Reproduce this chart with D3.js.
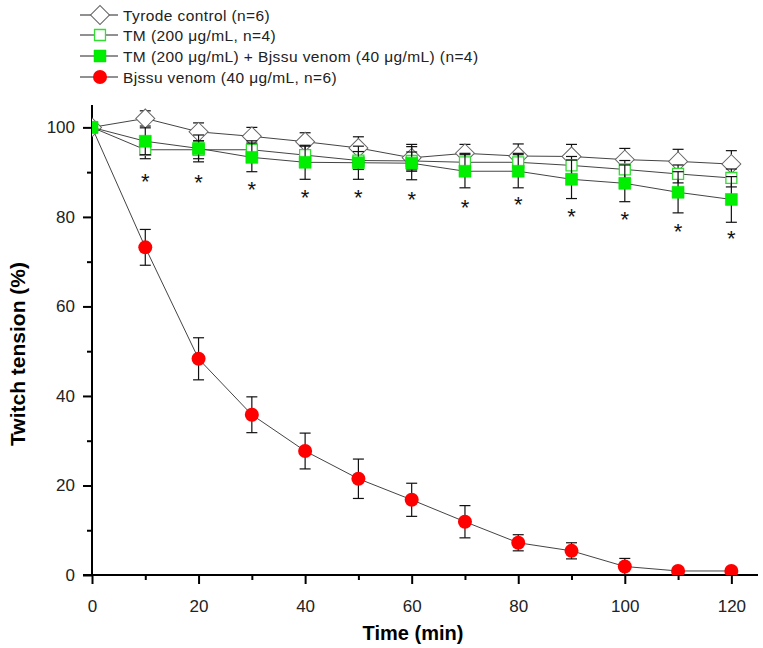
<!DOCTYPE html>
<html>
<head>
<meta charset="utf-8">
<script src="https://cdn.jsdelivr.net/npm/d3@7/dist/d3.min.js"></script>
<style>
  body { margin: 0; background: #fff; }
  text { font-family: Arial, "Liberation Sans", sans-serif; }
</style>
</head>
<body>
<script>
// values (percent of initial twitch tension)
var time = [0, 10, 20, 30, 40, 50, 60, 70, 80, 90, 100, 110, 120]

var tyrode    = [100, 102, 99, 98, 96.8, 95.4, 93.2, 94.2, 93.6, 93.5, 92.8, 92.4, 91.8]
var tyrodeErr = [0, 1.7, 2, 2, 2, 2.5, 3, 2, 2.7, 2.7, 2.5, 2.7, 3]

var tm    = [100, 95, 95, 95, 93.8, 92.6, 92.5, 92.2, 92.2, 91.5, 90.6, 89.6, 88.7]
var tmErr = [0, 2, 2, 2, 2, 2, 2, 2, 2, 2, 2, 2, 2]

var tmVenom    = [100, 96.9, 95.3, 93.3, 92.2, 92.1, 92, 90.2, 90.2, 88.4, 87.5, 85.5, 83.9]
var tmVenomErr = [0, 3, 3, 3.2, 3.8, 3.7, 3.7, 3.7, 3.7, 4.3, 4.1, 4.6, 5.1]

var venom    = [100, 73.2, 48.3, 35.8, 27.7, 21.5, 16.8, 11.9, 7.2, 5.4, 1.9, 0.9, 0.9]
var venomErr = [0, 4, 4.7, 4, 4, 4.4, 3.7, 3.6, 1.8, 1.8, 1.8, 0.5, 0.5]

// where the significance stars sit (y value)
var starLevel = [null, 89.1, 88.8, 87.2, 85.5, 85.5, 84.9, 83.2, 83.9, 81.3, 80.5, 77.9, 76.3]

var xTicks = [0, 20, 40, 60, 80, 100, 120]
var yTicks = [0, 20, 40, 60, 80, 100]

var labels = [
  'Tyrode control (n=6)',
  'TM (200 \u03bcg/mL, n=4)',
  'TM (200 \u03bcg/mL) + Bjssu venom (40 \u03bcg/mL) (n=4)',
  'Bjssu venom (40 \u03bcg/mL, n=6)'
]

var width = 763, height = 648

var svg = d3.select('body').append('svg')
    .attr('width', width)
    .attr('height', height)

var x = d3.scaleLinear().domain([0, 125]).range([92, 758])
var y = d3.scaleLinear().domain([0, 105]).range([575, 105])

// axes
var xAxis = svg.append('g')
    .attr('transform', 'translate(0,' + y(0) + ')')
    .call(d3.axisBottom(x).tickValues(xTicks).tickSize(9).tickPadding(16).tickSizeOuter(0))
xAxis.select('.domain').remove()
xAxis.append('line')
    .attr('x1', 83).attr('x2', x(125))
    .attr('stroke', '#000').attr('stroke-width', 2)
xAxis.selectAll('.tick line').attr('stroke-width', 2)
xAxis.selectAll('.tick text').attr('font-size', 17).attr('fill', '#222')

var xMinor = svg.append('g')
    .attr('transform', 'translate(0,' + y(0) + ')')
    .call(d3.axisBottom(x).tickValues(d3.range(10, 121, 20)).tickSize(5).tickFormat(''))
xMinor.select('.domain').remove()
xMinor.selectAll('.tick line').attr('stroke-width', 2)

var yAxis = svg.append('g')
    .attr('transform', 'translate(' + x(0) + ',0)')
    .call(d3.axisLeft(y).tickValues(yTicks).tickSize(9).tickPadding(8).tickSizeOuter(0))
yAxis.select('.domain').remove()
yAxis.append('line')
    .attr('y1', y(0)).attr('y2', y(105))
    .attr('stroke', '#000').attr('stroke-width', 2)
yAxis.selectAll('.tick line').attr('stroke-width', 2)
yAxis.selectAll('.tick text').attr('font-size', 17).attr('fill', '#222')

var yMinor = svg.append('g')
    .attr('transform', 'translate(' + x(0) + ',0)')
    .call(d3.axisLeft(y).tickValues(d3.range(10, 101, 20)).tickSize(5).tickFormat(''))
yMinor.select('.domain').remove()
yMinor.selectAll('.tick line').attr('stroke-width', 2)

// axis titles
svg.append('text')
    .attr('transform', 'translate(25,354) rotate(-90)')
    .attr('text-anchor', 'middle')
    .attr('font-size', 21)
    .attr('font-weight', 'bold')
    .text('Twitch tension (%)')

svg.append('text')
    .attr('x', 413).attr('y', 640)
    .attr('text-anchor', 'middle')
    .attr('font-size', 20)
    .attr('font-weight', 'bold')
    .text('Time (min)')

// marker shapes
var diamond = d3.symbol(d3.symbolSquare, 180)
var square = d3.symbol(d3.symbolSquare, 144)
var openSquare = d3.symbol(d3.symbolSquare, 120)

var styles = [
  { vals: tyrode, errs: tyrodeErr, shape: diamond, rot: 45, fill: '#fff', stroke: '#666', sw: 1 },
  { vals: tm, errs: tmErr, shape: openSquare, rot: 0, fill: '#fff', stroke: '#33dd33', sw: 1.3 },
  { vals: tmVenom, errs: tmVenomErr, shape: square, rot: 0, fill: '#00ee00', stroke: '#00dd00', sw: 0.5 },
  { vals: venom, errs: venomErr, shape: null, rot: 0, fill: '#ff0000', stroke: '#ff0000', sw: 0.5 }
]

var line = d3.line()
    .x(function (d) { return x(d.t) })
    .y(function (d) { return y(d.v) })

svg.append('clipPath').attr('id', 'plot')
  .append('rect').attr('x', x(0)).attr('y', 0).attr('width', 700).attr('height', y(0))

var plot = svg.append('g').attr('clip-path', 'url(#plot)')

// venom drawn first so the green square sits on top at t=0
var order = [3, 0, 1, 2]
order.forEach(function (k) {
    var s = styles[k]
    var pts = time.map(function (t, i) { return { t: t, v: s.vals[i], e: s.errs[i] } })
    var g = plot.append('g')

    g.append('path')
        .datum(pts)
        .attr('d', line)
        .attr('fill', 'none')
        .attr('stroke', '#444')
        .attr('stroke-width', 1)

    var bars = g.selectAll('.bar')
        .data(pts.filter(function (d) { return d.e > 0 }))
        .enter().append('g')
        .attr('stroke', '#111')
        .attr('stroke-width', 1.2)
    bars.append('line')
        .attr('x1', function (d) { return x(d.t) }).attr('x2', function (d) { return x(d.t) })
        .attr('y1', function (d) { return y(d.v + d.e) }).attr('y2', function (d) { return y(d.v - d.e) })
    bars.append('line')
        .attr('x1', function (d) { return x(d.t) - 5.5 }).attr('x2', function (d) { return x(d.t) + 5.5 })
        .attr('y1', function (d) { return y(d.v + d.e) }).attr('y2', function (d) { return y(d.v + d.e) })
    bars.append('line')
        .attr('x1', function (d) { return x(d.t) - 5.5 }).attr('x2', function (d) { return x(d.t) + 5.5 })
        .attr('y1', function (d) { return y(d.v - d.e) }).attr('y2', function (d) { return y(d.v - d.e) })

    if (s.shape) {
        g.selectAll('.mark')
            .data(pts)
            .enter().append('path')
            .attr('d', s.shape)
            .attr('transform', function (d) { return 'translate(' + x(d.t) + ',' + y(d.v) + ') rotate(' + s.rot + ')' })
            .attr('fill', s.fill)
            .attr('stroke', s.stroke)
            .attr('stroke-width', s.sw)
    } else {
        g.selectAll('.mark')
            .data(pts)
            .enter().append('circle')
            .attr('cx', function (d) { return x(d.t) })
            .attr('cy', function (d) { return y(d.v) })
            .attr('r', 7)
            .attr('fill', s.fill)
    }
})

// significance stars
svg.selectAll('.star')
    .data(time.map(function (t, i) { return { t: t, v: starLevel[i] } }).filter(function (d) { return d.v != null }))
    .enter().append('text')
    .attr('x', function (d) { return x(d.t) })
    .attr('y', function (d) { return y(d.v) + 12.5 })
    .attr('text-anchor', 'middle')
    .attr('font-size', 22)
    .attr('fill', '#111')
    .text('*')

// legend
var legend = svg.append('g')
var rowY = [15, 35, 56, 77]
labels.forEach(function (lab, k) {
    var s = styles[k]
    var ly = rowY[k]
    legend.append('line')
        .attr('x1', 80).attr('x2', 118)
        .attr('y1', ly).attr('y2', ly)
        .attr('stroke', '#222').attr('stroke-width', 1)
    if (s.shape) {
        legend.append('path')
            .attr('d', s.shape)
            .attr('transform', 'translate(100,' + ly + ') rotate(' + s.rot + ')')
            .attr('fill', s.fill)
            .attr('stroke', s.stroke)
            .attr('stroke-width', s.sw)
    } else {
        legend.append('circle')
            .attr('cx', 100).attr('cy', ly).attr('r', 7)
            .attr('fill', s.fill)
    }
    legend.append('text')
        .attr('x', 123).attr('y', ly + 5.5)
        .attr('font-size', 15.5)
        .attr('letter-spacing', 0.4)
        .attr('fill', '#222')
        .text(lab)
})
</script>
</body>
</html>
